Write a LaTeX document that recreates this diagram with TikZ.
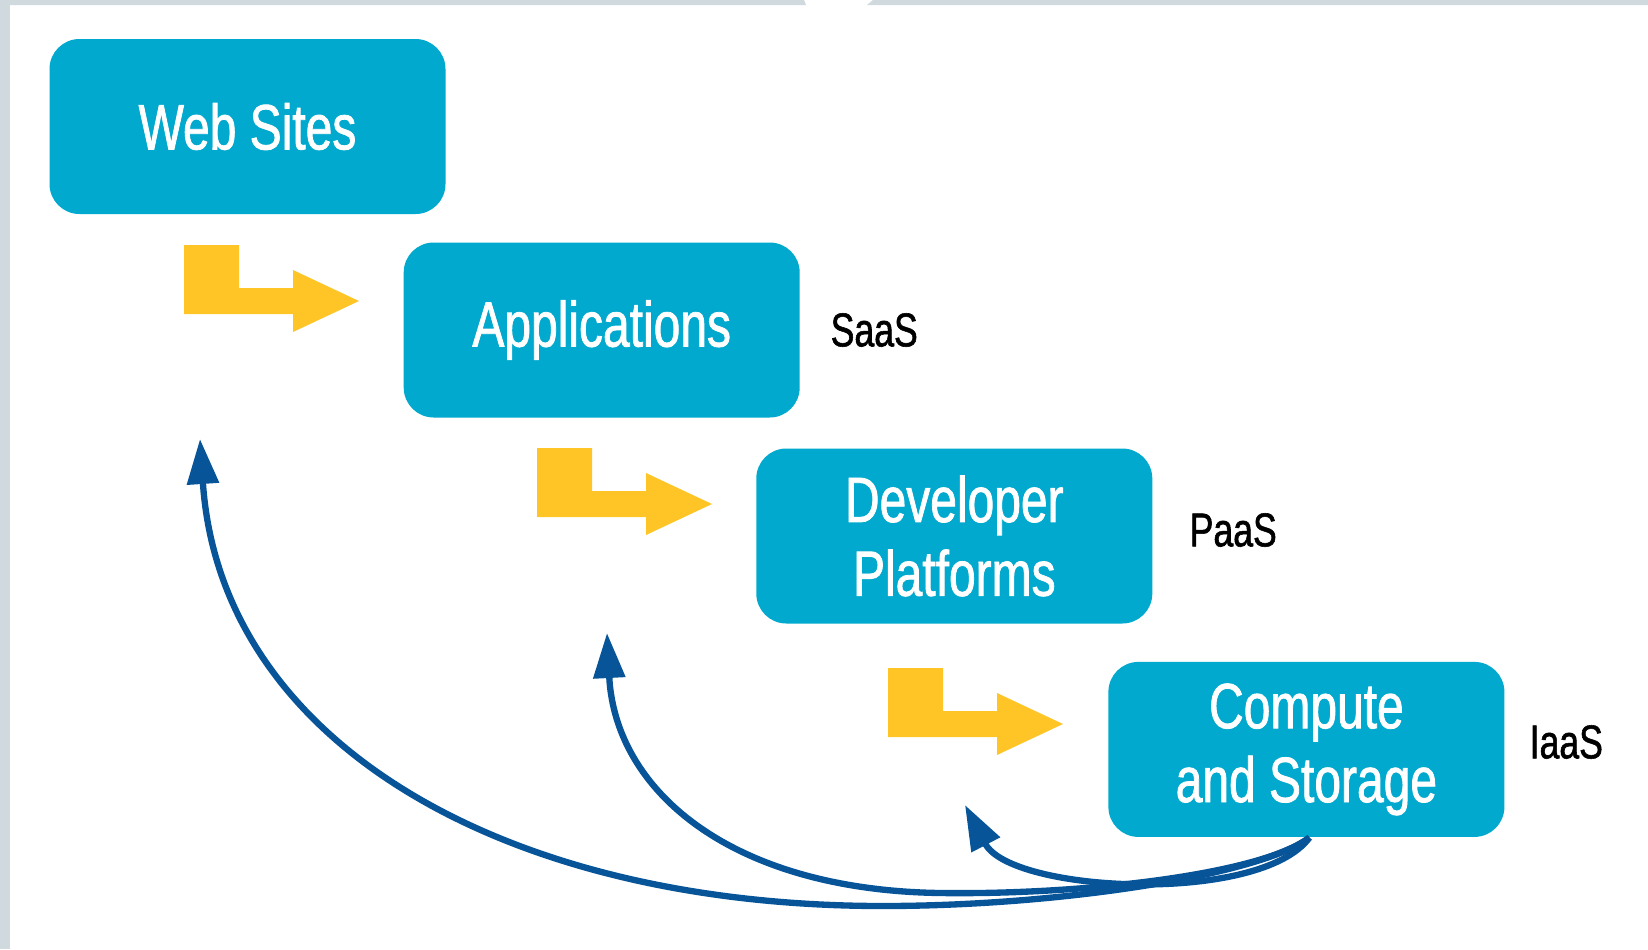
\documentclass[tikz,border=0pt]{standalone}
\usepackage{fontspec}
\usepackage{tikz}
\usetikzlibrary{calc, positioning, arrows.meta}
\newfontfamily\condsans[FakeStretch=0.75,FakeBold=1.2]{Liberation Sans}
\definecolor{boxblue}{RGB}{0,169,205}
\definecolor{gold}{RGB}{255,197,38}
\definecolor{navy}{RGB}{8,84,152}
\definecolor{framegray}{RGB}{207,217,222}
\tikzset{
	tier/.style={fill=boxblue, rounded corners=0.3cm, minimum width=3.96cm, minimum height=1.75cm, inner sep=0pt, align=center, text=white, font=\condsans\fontsize{18.2}{21}\selectfont},
	model/.style={anchor=west, inner sep=0pt, font=\condsans\fontsize{13.5}{16}\selectfont},
	uplink/.style={navy, line width=1.8pt, -{Triangle[length=0.45cm,width=0.31cm]}},
}
\begin{document}
\begin{tikzpicture}
		
		\useasboundingbox (0,0) rectangle (16.48,-9.49);
		
		% Frame
		\fill[framegray] (0,0) rectangle (0.10,-9.49);
		\fill[framegray] (0.10,0) -- (8.04,0) -- (8.06,-0.05) -- (0.10,-0.05) -- cycle;
		\fill[framegray] (8.73,0) -- (16.48,0) -- (16.48,-0.05) -- (8.67,-0.05) -- cycle;
		
		% Layers
		\node[tier] (web) at (2.475,-1.265) {Web Sites};
		\node[tier] (app) at (6.017,-3.300) {Applications};
		\node[tier] (dev) at (9.543,-5.360) {Developer\\Platforms};
		\node[tier] (comp) at (13.064,-7.494) {Compute\\and Storage};
		
		\node[model] (saas) at (8.30,-3.30) {SaaS};
		\node[model] (paas) at (11.89,-5.30) {PaaS};
		\node[model] (iaas) at (15.29,-7.42) {IaaS};
		
		% Steps
		\foreach \ox/\oy in {1.84/-2.45, 5.37/-4.48, 8.88/-6.68}
		\fill[gold, shift={(\ox,\oy)}] (0,0) -- (0.55,0) -- (0.55,-0.43) -- (1.09,-0.43) -- (1.09,-0.25) -- (1.75,-0.56) -- (1.09,-0.87) -- (1.09,-0.69) -- (0,-0.69) -- cycle;
		
		% Returns
		\coordinate (tipweb) at (2.00,-4.39);
		\coordinate (tipapp) at (6.07,-6.33);
		\coordinate (tipdev) at (9.65,-8.05);
		
		\draw[uplink] ($(comp.south)+(0.03,0)$) .. controls (12.6,-8.75) and (10.6,-9.06) .. (8.83,-9.06)
		.. controls (5.0,-9.06) and (2.2,-7.4) .. (tipweb);
		\draw[uplink] ($(comp.south)+(0.03,0)$) .. controls (12.6,-8.75) and (10.8,-8.95) .. (9.4,-8.93)
		.. controls (7.3,-8.9) and (6.15,-7.9) .. (tipapp);
		\draw[uplink] ($(comp.south)+(0.03,0)$) .. controls (12.6,-9.05) and (10.11,-8.93) .. (tipdev);
		
	\end{tikzpicture}
\end{document}
